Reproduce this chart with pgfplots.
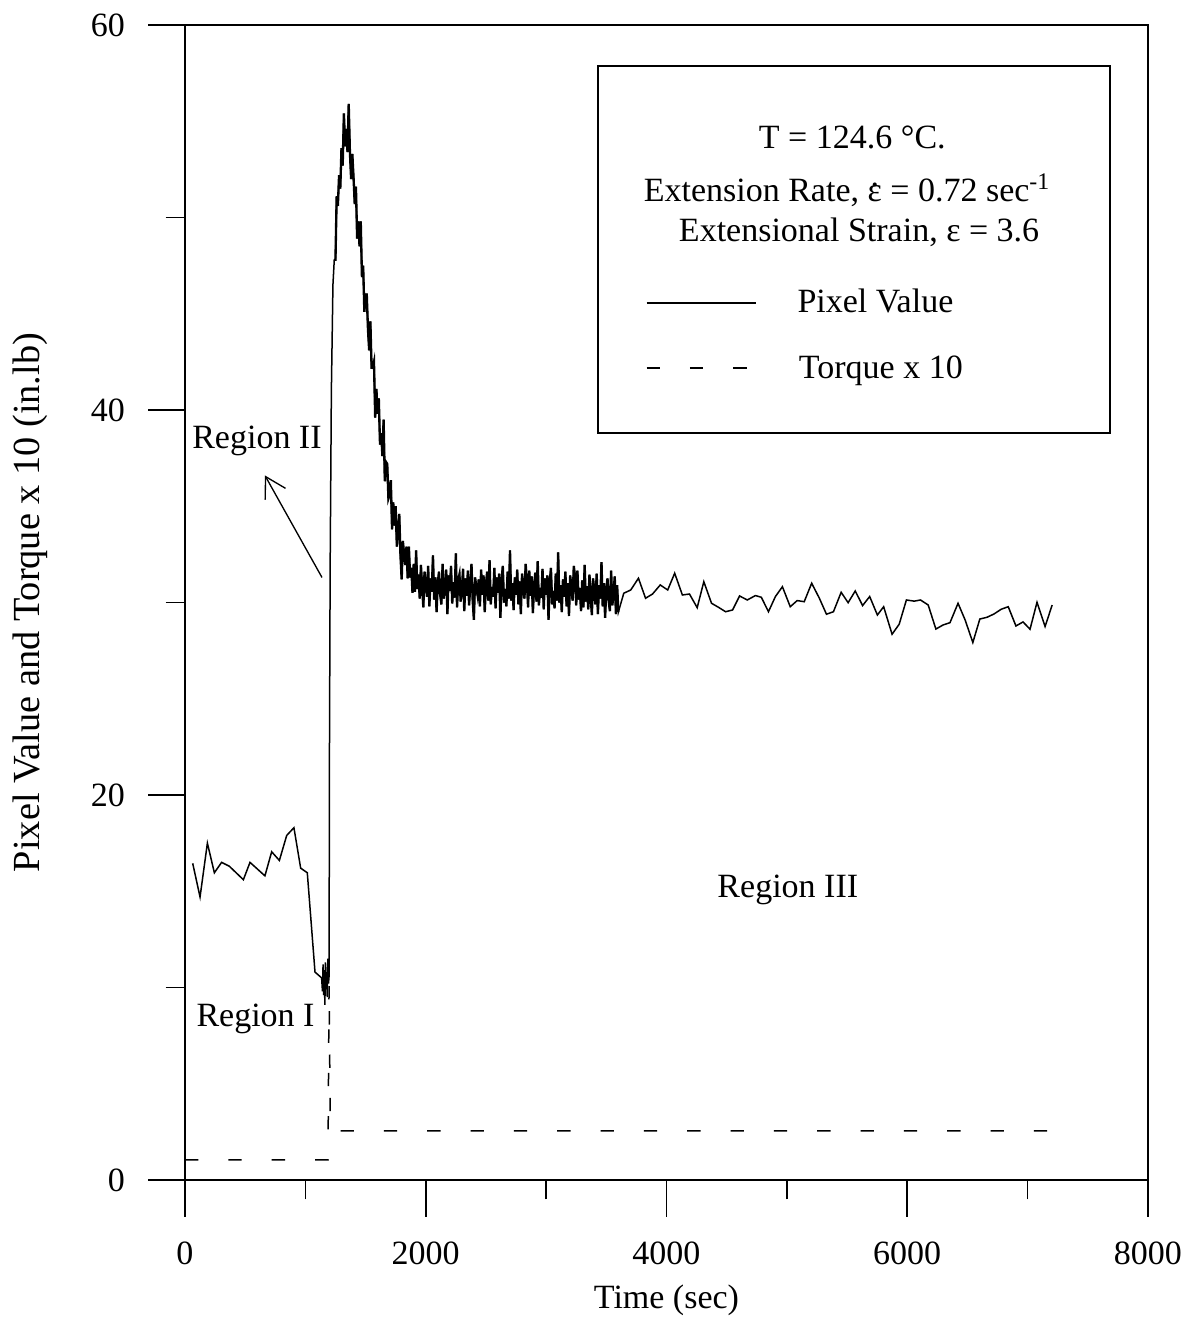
\documentclass[border=0pt]{standalone}
\usepackage{fontspec}
\setmainfont{Liberation Serif}
\usepackage{pgfplots}
\usepackage{pgfplotstable}
\pgfplotsset{compat=1.18}
\usetikzlibrary{arrows.meta}
\newcommand\edot{\ooalign{ε\cr\hidewidth\raisebox{0.42em}{.}\hidewidth\cr}}
\pgfplotstableread{
x y
64 16.45
125 14.7
186 17.5
244 15.96
304 16.5
368 16.3
485 15.6
540 16.5
664 15.8
720 17.05
784 16.6
845 17.9
905 18.3
961 16.2
1016 15.96
1080 10.8
1135 10.5
1142 9.8
1147 11.2
1152 9.6
1157 10.9
1162 9.1
1167 11.3
1172 9.9
1177 10.8
1182 9.5
1187 11.5
1192 10.2
1197 10.6
1200 22.0
1206 32.0
1216 41.0
1229 46.5
1240 47.8
1250 47.8
1260 51.1
1270 50.6
1280 52.2
1290 51.5
1300 53.6
1310 52.7
1320 55.4
1330 53.7
1340 54.6
1350 53.4
1360 55.9
1370 53.4
1380 52.0
1390 53.3
1400 52.1
1410 50.7
1420 51.6
1430 48.9
1440 49.8
1450 48.5
1460 49.8
1470 46.9
1480 47.5
1490 45.1
1500 46.0
1510 46.0
1520 44.2
1530 43.1
1540 44.6
1550 42.2
1560 42.2
1570 42.5
1580 39.6
1590 41.1
1600 39.8
1610 40.6
1620 38.2
1630 38.8
1640 37.6
1650 39.5
1660 36.3
1670 37.3
1680 37.2
1690 35.4
1700 35.6
1710 36.35
1720 33.8
1730 35.2
1740 34.0
1750 35.0
1760 32.9
1770 33.75
1780 34.6
1790 32.45
1800 31.2
1810 33.2
1820 32.5
1830 31.95
1840 32.9
1850 31.25
1860 32.9
1870 31.3
1880 31.8
1890 30.5
1900 32.0
1910 30.55
1920 32.7
1930 30.7
1940 31.45
1950 30.2
1960 31.95
1970 30.8
1980 29.75
1990 31.6
2000 31.0
2010 30.3
2020 31.9
2030 29.8
2040 31.25
2050 30.55
2060 32.45
2070 30.15
2080 31.3
2090 29.5
2100 31.0
2110 31.6
2120 30.4
2130 29.9
2140 32.0
2150 30.2
2160 30.8
2170 31.7
2180 29.4
2190 31.4
2200 30.6
2210 31.9
2220 29.95
2230 31.05
2240 30.25
2250 32.55
2260 29.75
2270 31.15
2280 31.45
2290 30.05
2300 30.65
2310 31.75
2320 29.55
2330 31.25
2340 30.35
2350 31.65
2360 29.85
2370 30.9
2380 32.0
2390 30.1
2400 29.1
2410 31.3
2420 30.8
2430 30.4
2440 31.2
2450 29.8
2460 31.7
2470 30.4
2480 31.4
2490 29.5
2500 30.9
2510 31.6
2520 30.1
2530 32.2
2540 29.9
2550 30.8
2560 30.3
2570 31.8
2580 29.7
2590 31.3
2600 30.5
2610 31.5
2620 29.2
2630 31.1
2640 31.9
2650 30.0
2660 30.7
2670 29.8
2680 31.6
2690 30.2
2700 32.7
2710 30.1
2720 31.0
2730 29.6
2740 31.3
2750 30.4
2760 31.7
2770 29.9
2780 31.1
2790 29.4
2800 31.5
2810 30.9
2820 30.2
2830 32.0
2840 31.15
2850 29.75
2860 31.65
2870 30.35
2880 31.35
2890 29.45
2900 30.85
2910 31.55
2920 30.05
2930 32.15
2940 29.85
2950 30.75
2960 30.25
2970 31.75
2980 29.65
2990 31.25
3000 30.4
3010 31.4
3020 29.1
3030 31.0
3040 31.8
3050 29.9
3060 30.6
3070 29.7
3080 31.5
3090 30.1
3100 32.6
3110 30.0
3120 30.9
3130 29.5
3140 31.2
3150 30.3
3160 31.6
3170 29.8
3180 31.0
3190 29.3
3200 31.4
3210 30.8
3220 30.1
3230 31.9
3240 31.35
3250 29.85
3260 31.65
3270 30.15
3280 30.75
3290 29.55
3300 31.15
3310 29.75
3320 31.95
3330 30.05
3340 30.85
3350 29.65
3360 31.45
3370 30.35
3380 29.35
3390 31.25
3400 30.6
3410 29.9
3420 31.5
3430 29.4
3440 30.9
3450 30.2
3460 32.1
3470 29.8
3480 31.0
3490 29.2
3500 30.7
3510 31.25
3520 30.05
3530 29.55
3540 31.65
3550 29.85
3560 30.45
3570 31.35
3580 29.4
3590 30.9
3600 29.5
3645 30.48
3703 30.65
3767 31.26
3826 30.22
3884 30.44
3948 30.91
4010 30.65
4068 31.52
4132 30.39
4191 30.44
4255 29.73
4310 31.08
4374 29.96
4432 29.75
4491 29.52
4549 29.61
4607 30.34
4671 30.13
4739 30.36
4788 30.27
4847 29.52
4905 30.31
4963 30.82
5028 29.78
5086 30.10
5144 30.04
5206 31.00
5270 30.22
5329 29.39
5387 29.52
5451 30.53
5509 29.99
5568 30.60
5629 29.84
5688 30.31
5752 29.35
5804 29.78
5874 28.35
5933 28.87
5993 30.13
6058 30.07
6110 30.13
6174 29.87
6238 28.62
6297 28.83
6355 28.95
6422 29.96
6481 29.09
6545 27.92
6603 29.14
6662 29.23
6720 29.40
6781 29.65
6839 29.78
6903 28.78
6962 28.99
7020 28.61
7078 30.01
7145 28.75
7204 29.87
}\pixeldata
\pgfplotstableread{
x y
0 1.05
1188 1.05
1197 10.2
1207 2.55
7200 2.55
}\torquedata
\begin{document}
\begin{tikzpicture}
\begin{axis}[
  scale only axis, width=288.9pt, height=346.5pt,
  xmin=0, xmax=8000, ymin=0, ymax=60,
  clip=false,
  axis line style={line width=0.5pt},
  xtick={0,2000,4000,6000,8000}, xticklabels={0,2000,4000,6000,8000},
  minor xtick={1000,3000,5000,7000},
  ytick={0,20,40,60}, yticklabels={0,20,40,60},
  minor ytick={10,30,50},
  tick align=outside, xtick pos=bottom, ytick pos=left,
  major tick length=11pt, minor tick length=5.8pt,
  tick style={line width=0.5pt, black},
  tick label style={font=\fontsize{10.2}{12}\selectfont},
  xticklabel style={yshift=-4pt},
  yticklabel style={xshift=-3.5pt},
  xlabel={Time (sec)},
  ylabel={Pixel Value and Torque x 10 (in.lb)},
  xlabel style={font=\fontsize{10.2}{12}\selectfont, at={(axis description cs:0.5,-0.104)}, anchor=center},
  ylabel style={font=\fontsize{11.5}{12}\selectfont, at={(axis description cs:-0.161,0.5)}, anchor=center},
]
\addplot[black, line width=0.45pt] table[x=x,y=y]{\pixeldata};
\addplot[black, line width=0.7pt, restrict x to domain=1235:3600] table[x=x,y=y]{\pixeldata};
\addplot[black, line width=0.45pt, dash pattern=on 4pt off 9pt] table[x=x,y=y]{\torquedata};
% legend box
\draw[line width=0.5pt] (axis cs:3430,57.87) rectangle (axis cs:7683,38.81);
\node[anchor=base, inner sep=0pt, font=\fontsize{10.2}{12}\selectfont] at (axis cs:5544,53.6) {T = 124.6 °C.};
\node[anchor=base, inner sep=0pt, font=\fontsize{10.2}{12}\selectfont] at (axis cs:5503,50.85) {Extension Rate, \edot{} = 0.72 sec\textsuperscript{-1}};
\node[anchor=base, inner sep=0pt, font=\fontsize{10.2}{12}\selectfont] at (axis cs:5600,48.75) {Extensional Strain, ε = 3.6};
\draw[line width=0.45pt] (axis cs:3835,45.56) -- (axis cs:4743,45.56);
\node[anchor=base west, inner sep=0pt, font=\fontsize{10.2}{12}\selectfont] at (axis cs:5083,45.04) {Pixel Value};
\draw[line width=0.45pt, dash pattern=on 4pt off 9pt] (axis cs:3835,42.18) -- (axis cs:4700,42.18);
\node[anchor=base west, inner sep=0pt, font=\fontsize{10.2}{12}\selectfont] at (axis cs:5095,41.66) {Torque x 10};
% region annotations
\node[font=\fontsize{10.2}{12}\selectfont] at (axis cs:598,38.4) {Region II};
\node[font=\fontsize{10.2}{12}\selectfont] at (axis cs:586,8.39) {Region I};
\node[font=\fontsize{10.2}{12}\selectfont] at (axis cs:5008,15.06) {Region III};
\draw[line width=0.4pt, -{Straight Barb[length=6pt,width=7pt]}] (axis cs:1138,31.3) -- (axis cs:664,36.6);
\end{axis}
\pgfresetboundingbox
\path[use as bounding box] ([shift={(-55.5pt,-41.1pt)}]current axis.south west) rectangle ([shift={(304.5pt,354pt)}]current axis.south west);
\end{tikzpicture}
\end{document}
